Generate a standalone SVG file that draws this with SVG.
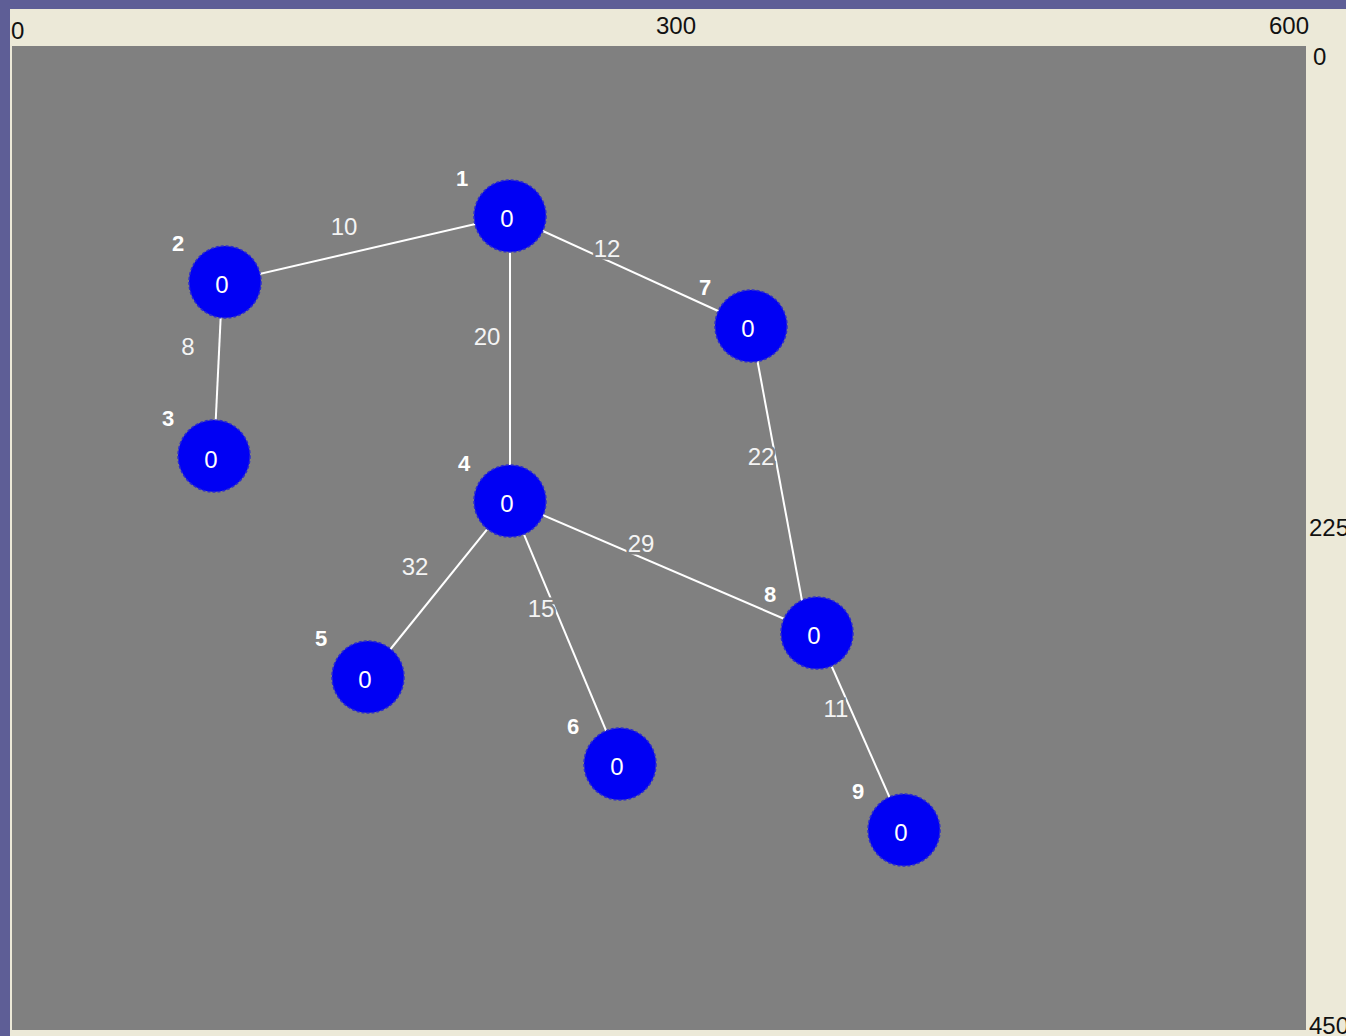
<svg xmlns="http://www.w3.org/2000/svg" width="1346" height="1036" viewBox="0 0 1346 1036">
<style>
.ruler{font-family:"Liberation Sans Narrow","Liberation Sans",Arial,sans-serif;font-size:24px;fill:#111}
.edge{stroke:#ffffff;stroke-width:2;fill:none}
.elabel{font-family:"Liberation Sans Narrow","Liberation Sans",Arial,sans-serif;font-size:24px;fill:#f4f4f4;text-anchor:middle}
.gap{stroke:#808080;stroke-width:5;paint-order:stroke}
.node circle{fill:#0000f4;stroke:#2a2ad0;stroke-width:1.5;stroke-dasharray:3 2}
.nval{font-family:"Liberation Sans Narrow","Liberation Sans",Arial,sans-serif;font-size:24px;fill:#ffffff;text-anchor:middle}
.nid{font-family:"Liberation Sans",Arial,sans-serif;font-size:22px;font-weight:bold;fill:#ffffff;text-anchor:middle}
</style>
<rect x="0" y="0" width="1346" height="1036" fill="#5e5e96"/>
<rect x="10" y="9" width="1336" height="1027" fill="#ece9d8"/>
<rect x="12" y="46" width="1294" height="984" fill="#808080"/>
<text class="ruler" x="11" y="39">0</text>
<text class="ruler" x="676" y="34" text-anchor="middle">300</text>
<text class="ruler" x="1289" y="34" text-anchor="middle">600</text>
<text class="ruler" x="1313" y="65">0</text>
<text class="ruler" x="1309" y="536">225</text>
<text class="ruler" x="1309" y="1034">450</text>
<g id="connectors">
<line class="edge" x1="225" y1="282" x2="510" y2="216"/>
<line class="edge" x1="510" y1="216" x2="751" y2="326"/>
<line class="edge" x1="510" y1="216" x2="510" y2="501"/>
<line class="edge" x1="222" y1="290" x2="214" y2="456"/>
<line class="edge" x1="751" y1="326" x2="808" y2="633"/>
<line class="edge" x1="510" y1="501" x2="817" y2="633"/>
<line class="edge" x1="510" y1="501" x2="368" y2="677"/>
<line class="edge" x1="510" y1="501" x2="620" y2="764"/>
<line class="edge" x1="817" y1="633" x2="904" y2="830"/>
<text class="elabel" x="344" y="235">10</text>
<text class="elabel gap" x="607" y="257">12</text>
<text class="elabel" x="487" y="345">20</text>
<text class="elabel" x="188" y="355">8</text>
<text class="elabel gap" x="761" y="465">22</text>
<text class="elabel gap" x="641" y="552">29</text>
<text class="elabel" x="415" y="575">32</text>
<text class="elabel gap" x="541" y="617">15</text>
<text class="elabel gap" x="836" y="717">11</text>
</g>
<g id="node1" class="node"><circle cx="510" cy="216" r="36"/><text class="nval" x="507" y="227">0</text><text class="nid" x="462" y="186">1</text></g>
<g id="node2" class="node"><circle cx="225" cy="282" r="36"/><text class="nval" x="222" y="293">0</text><text class="nid" x="178" y="251">2</text></g>
<g id="node3" class="node"><circle cx="214" cy="456" r="36"/><text class="nval" x="211" y="468">0</text><text class="nid" x="168" y="426">3</text></g>
<g id="node4" class="node"><circle cx="510" cy="501" r="36"/><text class="nval" x="507" y="512">0</text><text class="nid" x="464" y="471">4</text></g>
<g id="node5" class="node"><circle cx="368" cy="677" r="36"/><text class="nval" x="365" y="688">0</text><text class="nid" x="321" y="646">5</text></g>
<g id="node6" class="node"><circle cx="620" cy="764" r="36"/><text class="nval" x="617" y="775">0</text><text class="nid" x="573" y="734">6</text></g>
<g id="node7" class="node"><circle cx="751" cy="326" r="36"/><text class="nval" x="748" y="337">0</text><text class="nid" x="705" y="295">7</text></g>
<g id="node8" class="node"><circle cx="817" cy="633" r="36"/><text class="nval" x="814" y="644">0</text><text class="nid" x="770" y="602">8</text></g>
<g id="node9" class="node"><circle cx="904" cy="830" r="36"/><text class="nval" x="901" y="841">0</text><text class="nid" x="858" y="799">9</text></g>
</svg>
